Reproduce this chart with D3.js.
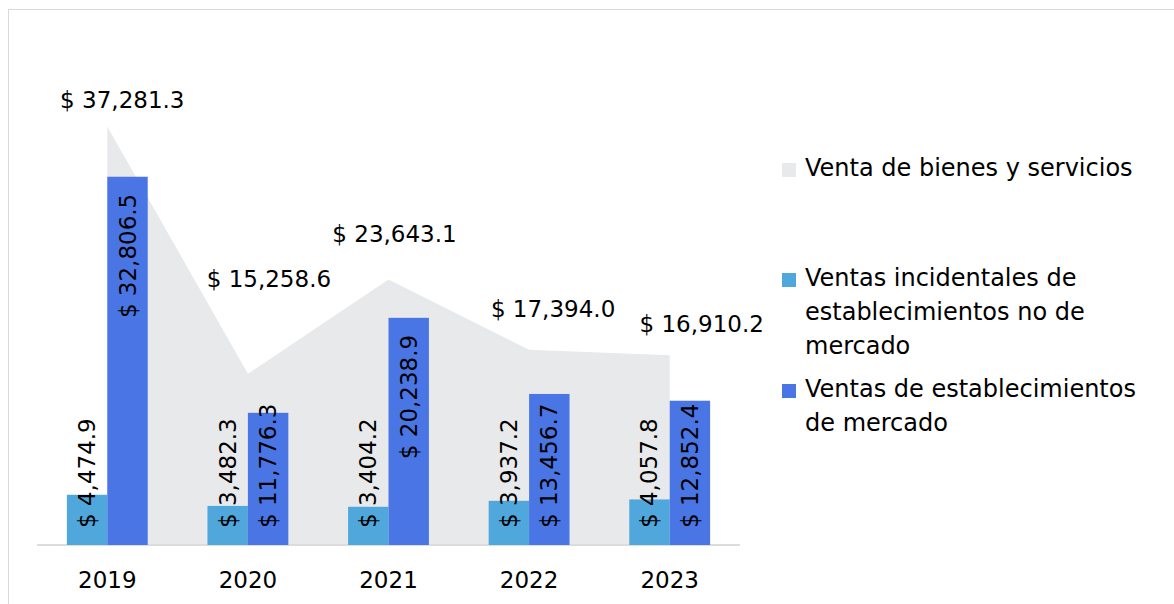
<!DOCTYPE html>
<html>
<head>
<meta charset="utf-8">
<script src="https://cdn.jsdelivr.net/npm/d3@7"></script>
<style>
  body { margin: 0; background: #fff; }
  svg { display: block; font-family: "DejaVu Sans", sans-serif; }
</style>
</head>
<body>
<svg id="chart"></svg>
<script>
const years = ["2019", "2020", "2021", "2022", "2023"];
const totalSales = [37281.3, 15258.6, 23643.1, 17394.0, 16910.2];
const nonMarketSales = [4474.9, 3482.3, 3404.2, 3937.2, 4057.8];
const marketSales = [32806.5, 11776.3, 20238.9, 13456.7, 12852.4];
const seriesNames = [
  "Venta de bienes y servicios",
  "Ventas incidentales de establecimientos no de mercado",
  "Ventas de establecimientos de mercado"
];

// hand placed label nudges for the area labels (as in the source chart)
const areaLabelNudge = [[15, -19], [21, -87], [6, -38], [24, -33], [32, -23]];

const w = 1174, h = 604;
const left = 37, right = 740, base = 545;
const colors = ["#e8e9eb", "#4fa7db", "#4a75e4"];
const fmt = v => "$ " + d3.format(",.1f")(v);

const svg = d3.select("#chart").attr("width", w).attr("height", h);

svg.append("rect")
  .attr("x", 8.5).attr("y", 9.5)
  .attr("width", 1300).attr("height", 800)
  .attr("fill", "none").attr("stroke", "#d9d9d9");

const x0 = d3.scaleBand().domain(years).range([left, right])
  .paddingInner(0.425).paddingOuter(0.2125);
const x1 = d3.scaleBand().domain(["nm", "m"]).range([0, x0.bandwidth()]);
const y = d3.scaleLinear().domain([0, 40000]).range([base, 96]);

const cx = yr => x0(yr) + x0.bandwidth() / 2;

// area
const area = d3.area()
  .x((d, i) => cx(years[i]))
  .y0(y(0))
  .y1(d => y(d));
svg.append("path")
  .datum(totalSales)
  .attr("fill", colors[0])
  .attr("d", area);

// axis
const xAxis = d3.axisBottom(x0).tickSize(0).tickPadding(27);
svg.append("g")
  .attr("transform", "translate(0," + base + ")")
  .call(xAxis)
  .call(g => g.select(".domain").attr("stroke", "#dcdcdc").attr("stroke-width", 2)
      .attr("d", "M" + left + ",0H" + right))
  .call(g => g.selectAll("text").attr("font-size", 23).attr("fill", "#000")
      .attr("font-family", "DejaVu Sans"));

// bars
const barData = [];
years.forEach((yr, i) => {
  barData.push({ yr: yr, key: "nm", v: nonMarketSales[i], c: colors[1] });
  barData.push({ yr: yr, key: "m", v: marketSales[i], c: colors[2] });
});

svg.selectAll("rect.bar")
  .data(barData)
  .enter()
  .append("rect")
  .attr("class", "bar")
  .attr("x", d => x0(d.yr) + x1(d.key))
  .attr("y", d => y(d.v))
  .attr("width", x1.bandwidth())
  .attr("height", d => y(0) - y(d.v))
  .attr("fill", d => d.c);

// bar labels (rotated)
const barLabels = svg.selectAll("text.barlab")
  .data(barData)
  .enter()
  .append("text")
  .attr("class", "barlab")
  .attr("font-size", 23)
  .attr("dominant-baseline", "central")
  .text(d => fmt(d.v));

barLabels.each(function(d) {
  const len = this.getComputedTextLength();
  const bx = x0(d.yr) + x1(d.key) + x1.bandwidth() / 2;
  const hgt = y(0) - y(d.v);
  let ty;
  if (hgt >= len + 17 + 17) {
    ty = y(d.v) + 17 + len;
  } else {
    ty = base - 17;
  }
  d3.select(this)
    .attr("text-anchor", "start")
    .attr("transform", "translate(" + bx + "," + ty + ") rotate(-90)");
});

// area labels
svg.selectAll("text.arealab")
  .data(totalSales)
  .enter()
  .append("text")
  .attr("class", "arealab")
  .attr("font-size", 23)
  .attr("text-anchor", "middle")
  .attr("x", (d, i) => cx(years[i]) + areaLabelNudge[i][0])
  .attr("y", (d, i) => y(d) + areaLabelNudge[i][1])
  .text(d => fmt(d));

// legend
const legend = svg.append("g");
const legendTop = [176, 286, 397];
const lineH = 34;
seriesNames.forEach((name, i) => {
  const g = legend.append("g");
  g.append("rect")
    .attr("x", 782).attr("y", legendTop[i] - 13)
    .attr("width", 14).attr("height", 14)
    .attr("fill", colors[i]);
  const t = g.append("text").attr("font-size", 24).attr("fill", "#000");
  const words = name.split(" ");
  let line = [], lines = [];
  const probe = g.append("text").attr("font-size", 24);
  words.forEach(wd => {
    const test = line.concat([wd]).join(" ");
    probe.text(test);
    if (probe.node().getComputedTextLength() > 355 && line.length) {
      lines.push(line.join(" "));
      line = [wd];
    } else {
      line.push(wd);
    }
  });
  lines.push(line.join(" "));
  probe.remove();
  lines.forEach((ln, j) => {
    t.append("tspan").attr("x", 805).attr("y", legendTop[i] + j * lineH).text(ln);
  });
});
</script>
</body>
</html>
